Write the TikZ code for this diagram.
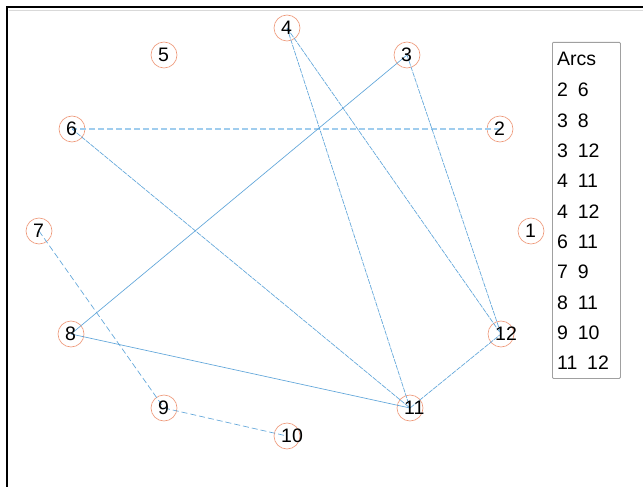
\documentclass[tikz,border=0pt]{standalone}
\usepackage{fontspec}
\setmainfont{Liberation Sans}
\definecolor{edgeblue}{RGB}{95,165,218}
\definecolor{lightblue}{RGB}{160,205,238}
\definecolor{vorange}{RGB}{238,150,118}
\definecolor{boxgray}{RGB}{160,160,160}
\begin{document}
\begin{tikzpicture}[x=1pt,y=-1pt,
  vert/.style={circle,draw=vorange,line width=0.6pt,minimum size=26pt,inner sep=0pt},
  vlabel/.style={anchor=west,inner sep=0pt,font=\fontsize{19.5}{22}\selectfont},
  edge/.style={draw=edgeblue,line width=0.65pt},
  dsh/.style={edge,dash pattern=on 6pt off 3pt},
  widedsh/.style={draw=lightblue,line width=1.3pt,dash pattern=on 6pt off 3pt},
  fine/.style={edge,dash pattern=on 5pt off 1pt},
  legtext/.style={anchor=west,inner sep=0pt,font=\fontsize{19.5}{22}\selectfont}]
\useasboundingbox (0,0) rectangle (643,487);
\fill[white] (0,0) rectangle (643,487);
% frame
\draw[black,line width=1.2pt] (7,487) -- (7,7) -- (643,7);
\draw[black!15,line width=0.6pt] (8.5,10) -- (643,10);
% vertices
\node[vert] (v1) at (531,231) {};
\node[vert] (v2) at (500,129) {};
\node[vert] (v3) at (407,55) {};
\node[vert] (v4) at (287,28) {};
\node[vert] (v5) at (164,55) {};
\node[vert] (v6) at (72,129) {};
\node[vert] (v7) at (39,231) {};
\node[vert] (v8) at (71,334) {};
\node[vert] (v9) at (164,408) {};
\node[vert] (v10) at (287,436) {};
\node[vert] (v11) at (410,408) {};
\node[vert] (v12) at (501,334) {};
% edges
\draw[widedsh] (v2.center) -- (v6.center);
\draw[edge] (v3.center) -- (v8.center);
\draw[fine] (v3.center) -- (v12.center);
\draw[fine] (v4.center) -- (v11.center);
\draw[fine] (v4.center) -- (v12.center);
\draw[fine] (v6.center) -- (v11.center);
\draw[dsh] (v7.center) -- (v9.center);
\draw[edge] (v8.center) -- (v11.center);
\draw[dsh] (v9.center) -- (v10.center);
\draw[fine] (v11.center) -- (v12.center);
% labels
\foreach \v in {1,...,9} {\node[vlabel] (l\v) at ([xshift=-6pt]v\v.center) {\v};}
\foreach \v in {10,11,12} {\node[vlabel] (l\v) at ([xshift=-6pt]v\v.center) {\v};}
% legend
\node[draw=boxgray,line width=0.8pt,rounded corners=1pt,minimum width=68pt,minimum height=336pt,inner sep=0pt,anchor=north west] (leg) at (552,42) {};
\node[legtext] (lt0) at (557,59) {Arcs};
\node[legtext] (lt1) at (557,90) {2\hspace{0.5em}6};
\node[legtext] (lt2) at (557,120.3) {3\hspace{0.5em}8};
\node[legtext] (lt3) at (557,150.7) {3\hspace{0.5em}12};
\node[legtext] (lt4) at (557,181) {4\hspace{0.5em}11};
\node[legtext] (lt5) at (557,211.3) {4\hspace{0.5em}12};
\node[legtext] (lt6) at (557,241.7) {6\hspace{0.5em}11};
\node[legtext] (lt7) at (557,272) {7\hspace{0.5em}9};
\node[legtext] (lt8) at (557,302.3) {8\hspace{0.5em}11};
\node[legtext] (lt9) at (557,332.7) {9\hspace{0.5em}10};
\node[legtext] (lt10) at (557,363) {11\hspace{0.5em}12};
\end{tikzpicture}
\end{document}
